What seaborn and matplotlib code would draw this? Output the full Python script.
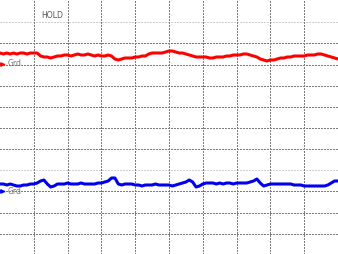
import matplotlib
matplotlib.use("Agg")
import matplotlib.pyplot as plt
import seaborn as sns
import numpy as np
import pandas as pd

# Time axis in screen divisions (10 horizontal divisions)
t_div = [i * 0.1 for i in range(101)]

# Channel 1 (red) – screen pixel rows
ch1_px = [53, 54, 53, 54, 53, 54, 53, 53, 54, 53, 53, 53, 56, 57, 57, 58, 57, 56, 56, 55,
          55, 56, 55, 54, 55, 55, 54, 55, 56, 55, 56, 56, 55, 56, 59, 60, 59, 58, 58, 58,
          57, 57, 56, 56, 54, 53, 53, 53, 53, 52, 51, 51, 52, 53, 53, 54, 55, 56, 57, 57,
          57, 57, 58, 58, 57, 57, 57, 56, 56, 55, 55, 55, 54, 54, 55, 56, 57, 59, 60, 61,
          60, 60, 59, 58, 58, 57, 57, 56, 56, 56, 56, 55, 55, 55, 54, 54, 55, 56, 57, 58, 59]

# Channel 2 (blue)
ch2_px = [184, 184, 185, 184, 185, 186, 186, 185, 185, 184, 184, 183, 181, 180, 184, 187, 186, 184, 184, 184,
          183, 184, 184, 184, 183, 184, 184, 184, 184, 183, 183, 182, 181, 178, 178, 184, 185, 184, 184, 184,
          185, 185, 186, 185, 185, 185, 184, 185, 185, 185, 185, 186, 185, 184, 183, 182, 180, 182, 187, 186,
          184, 183, 183, 183, 184, 183, 184, 183, 183, 184, 183, 183, 183, 183, 182, 181, 179, 183, 186, 185,
          184, 184, 184, 184, 184, 184, 184, 185, 185, 185, 186, 186, 186, 186, 186, 186, 186, 185, 183, 181, 181]

W, H = 338, 254
NX, NY = 10, 12

df = pd.DataFrame({
    "t": t_div * 2,
    "y": ch1_px + ch2_px,
    "ch": ["CH1"] * len(t_div) + ["CH2"] * len(t_div),
})

plt.rcParams["lines.scale_dashes"] = False
fig = plt.figure(figsize=(W / 100, H / 100), dpi=100)
ax = fig.add_axes([0, 0, 1, 1])
ax.set_xlim(0, NX)
ax.set_ylim(H, 0)  # pixel rows, top = 0

# grid
dy = H / NY
for k in range(1, NY):
    col = "#cfcfcf" if k in (1, 8) else "#7c7c7c"
    ax.axhline(round(k * dy) + 0.5, color=col, lw=0.72, dashes=(1.44, 1.2),
               antialiased=False, zorder=1)
for k in range(1, NX):
    ax.axvline(k, color="#7c7c7c", lw=0.72, dashes=(1.44, 1.2), antialiased=False, zorder=1)

sns.lineplot(data=df, x="t", y="y", hue="ch", palette={"CH1": "#ff0000", "CH2": "#0000ee"},
             lw=2.2, legend=False, ax=ax, zorder=3)

for s in ax.spines.values():
    s.set_visible(False)
ax.set_xticks([])
ax.set_yticks([])
ax.set_xlabel("")
ax.set_ylabel("")

ax.text(41.5 / 33.8, 15, "HOLD", fontsize=5.6, color="#555555", va="center", ha="left", zorder=4)
ax.text(7.5 / 33.8, 64, "Grd", fontsize=5.6, color="#777777", va="center", ha="left", zorder=4)
ax.text(7.5 / 33.8, 191, "Grd", fontsize=5.6, color="#777777", va="center", ha="left", zorder=4)
ax.plot([0.02, 0.12], [64, 64], color="#ff0000", lw=1.0, zorder=4)
ax.plot([0.07], [64], marker=">", color="#ff0000", ms=2.5, zorder=4)
ax.plot([0.02, 0.12], [191, 191], color="#0000ee", lw=1.0, zorder=4)
ax.plot([0.07], [191], marker=">", color="#0000ee", ms=2.5, zorder=4)

fig.savefig("out.png", dpi=100)
